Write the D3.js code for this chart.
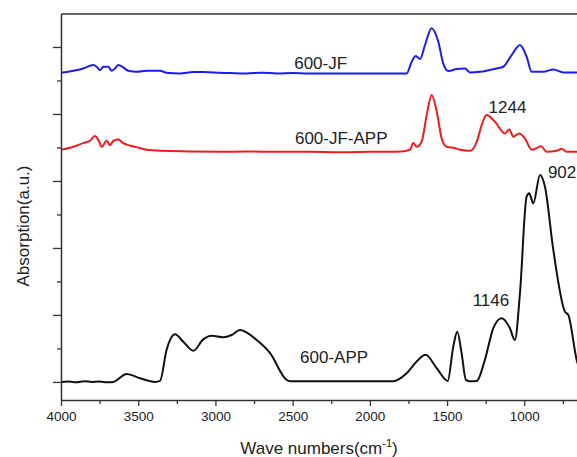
<!DOCTYPE html>
<html>
<head>
<meta charset="utf-8">
<script src="https://cdn.jsdelivr.net/npm/d3@7"></script>
<style>
  body { margin: 0; background: #fff; }
  svg { display: block; font-family: "Liberation Sans", Arial, sans-serif; }
</style>
</head>
<body>
<svg id="chart"></svg>
<script>
// Spectra as [wave number, absorption (a.u., offset)]
const app = [
  [4000, 0], [3950, 0.01], [3900, -0.01], [3850, 0.02], [3800, 0], [3750, 0.01], [3700, -0.01],
  [3663, 0], [3575, 0.24], [3488, 0.11], [3391, 0], [3359, 0.03], [3316, 0.96], [3262, 1.42],
  [3208, 1.2], [3143, 0.93], [3079, 1.27], [3024, 1.38], [2949, 1.33], [2895, 1.4], [2841, 1.55],
  [2733, 1.25], [2646, 0.86], [2539, 0.06], [2517, 0.02], [2200, 0.02], [1850, 0.02],
  [1762, 0.26], [1697, 0.61], [1639, 0.81], [1567, 0.41], [1496, 0.03], [1460, 1.05], [1434, 1.5],
  [1406, 0.86], [1378, 0.06], [1352, 0.02], [1308, 0.03], [1255, 0.66], [1201, 1.6], [1147, 1.9],
  [1093, 1.6], [1061, 1.25], [1028, 2.65], [985, 5.53], [968, 5.63], [942, 5.33], [898, 6.18],
  [866, 5.83], [812, 3.94], [737, 2.1], [715, 2.0], [661, 0.66], [607, 0]
];
const jfApp = [
  [4000, 6.93], [3920, 7.02], [3856, 7.13], [3812, 7.2], [3780, 7.34], [3758, 7.22], [3736, 7.02],
  [3704, 7.2], [3683, 7.07], [3661, 7.2], [3629, 7.24], [3597, 7.13], [3564, 7.07], [3510, 7.01],
  [3445, 6.93], [3359, 6.9], [2970, 6.87], [2800, 6.88], [2600, 6.87], [2400, 6.87], [2200, 6.86],
  [2000, 6.87], [1800, 6.88], [1740, 6.93], [1719, 7.13], [1697, 7.02], [1665, 7.17], [1632, 7.97],
  [1600, 8.57], [1567, 8.07], [1535, 7.27], [1503, 7.02], [1449, 6.98], [1417, 6.93], [1352, 6.9],
  [1308, 7.17], [1276, 7.67], [1244, 7.97], [1190, 7.77], [1125, 7.42], [1097, 7.54], [1071, 7.32],
  [1032, 7.42], [996, 7.27], [952, 6.93], [920, 6.98], [892, 7.04], [855, 6.87], [790, 6.9],
  [758, 6.96], [726, 6.87], [661, 6.87], [600, 6.87]
];
const jf = [
  [4000, 9.23], [3920, 9.29], [3856, 9.36], [3791, 9.46], [3769, 9.41], [3747, 9.31], [3726, 9.41],
  [3694, 9.41], [3672, 9.29], [3650, 9.36], [3629, 9.46], [3597, 9.39], [3564, 9.29], [3510, 9.26],
  [3445, 9.29], [3359, 9.29], [3316, 9.23], [3229, 9.21], [3143, 9.25], [3079, 9.25], [2970, 9.23],
  [2900, 9.22], [2800, 9.21], [2700, 9.23], [2600, 9.21], [2500, 9.22], [2400, 9.21], [2200, 9.21],
  [2000, 9.21], [1800, 9.21], [1762, 9.21], [1729, 9.56], [1703, 9.73], [1675, 9.64], [1643, 10.06],
  [1600, 10.56], [1557, 10.16], [1525, 9.51], [1492, 9.28], [1438, 9.34], [1384, 9.36], [1352, 9.24],
  [1287, 9.26], [1179, 9.36], [1136, 9.41], [1082, 9.76], [1028, 10.06], [985, 9.71], [952, 9.26],
  [877, 9.26], [812, 9.33], [748, 9.24], [661, 9.24], [600, 9.24]
];
const seriesNames = ["600-APP", "600-JF-APP", "600-JF"];
const seriesColors = ["#111111", "#ee1c1c", "#1c1cf0"];
// annotation labels: [text, wave number, value]
const sampleLabels = [["600-JF", 2490, 9.34], ["600-JF-APP", 2485, 7.1], ["600-APP", 2452, 0.57]];
const peakLabels = [["1244", 1109, 8.03], ["1146", 1216, 2.27], ["902", 847, 6.09]];
const majorX = [4000, 3500, 3000, 2500, 2000, 1500, 1000];
const minorX = [3750, 3250, 2750, 2250, 1750, 1250, 750];
const majorY = [0, 2, 4, 6, 8, 10];
const minorY = [1, 3, 5, 7, 9];

const W = 577, H = 457;
const svg = d3.select("#chart").attr("width", W).attr("height", H);

const x = d3.scaleLinear().domain([4000, 400]).range([61, 61 + 3600 * 0.15443]);
const y = d3.scaleLinear().domain([-0.54, 11]).range([400, 13.5]);

svg.append("defs").append("clipPath").attr("id", "clip")
  .append("rect").attr("x", 61).attr("y", 13.5).attr("width", W).attr("height", 386.5);

const line = d3.line()
  .x(d => x(d[0]))
  .y(d => y(d[1]))
  .curve(d3.curveMonotoneX);

[app, jfApp, jf].forEach((s, i) => {
  svg.append("path")
    .datum(s)
    .attr("clip-path", "url(#clip)")
    .attr("fill", "none")
    .attr("stroke", seriesColors[i])
    .attr("stroke-width", 2)
    .attr("stroke-linejoin", "round")
    .attr("d", line);
});

// axes
const axisColor = "#333";
const gx = svg.append("g").attr("transform", "translate(0," + y.range()[0] + ")");
gx.call(d3.axisBottom(x).tickValues(majorX).tickSize(6).tickSizeOuter(0).tickPadding(5).tickFormat(d3.format("d")));
gx.call(g => g.selectAll(".tick text").attr("font-size", 13.5).attr("fill", "#222").style("font-family", "inherit"));
svg.append("g").attr("transform", "translate(0," + y.range()[0] + ")")
  .call(d3.axisBottom(x).tickValues(minorX).tickSize(4).tickFormat(""))
  .call(g => g.select(".domain").remove());

const gy = svg.append("g").attr("transform", "translate(" + x.range()[0] + ",0)");
gy.call(d3.axisLeft(y).tickValues(majorY).tickSize(8).tickSizeOuter(0).tickFormat(""));
svg.append("g").attr("transform", "translate(" + x.range()[0] + ",0)")
  .call(d3.axisLeft(y).tickValues(minorY).tickSize(4).tickFormat(""))
  .call(g => g.select(".domain").remove());

svg.append("g").attr("transform", "translate(0," + y.range()[1] + ")")
  .call(d3.axisTop(x).tickValues([]).tickSizeOuter(0));

svg.selectAll(".domain").attr("stroke", axisColor).attr("stroke-width", 1.5);
svg.selectAll(".tick line").attr("stroke", axisColor).attr("stroke-width", 1.3);

// axis titles
const title = svg.append("text")
  .attr("x", 319).attr("y", 454)
  .attr("text-anchor", "middle")
  .attr("font-size", 17).attr("fill", "#222")
  .text("Wave numbers(cm");
title.append("tspan").attr("font-size", 11).attr("dy", -7).text("-1");
title.append("tspan").attr("dy", 7).text(")");

svg.append("text")
  .attr("transform", "translate(29,226) rotate(-90)")
  .attr("text-anchor", "middle")
  .attr("font-size", 17).attr("fill", "#222")
  .text("Absorption(a.u.)");

// labels
svg.selectAll(".sample").data(sampleLabels).enter().append("text")
  .attr("class", "sample")
  .attr("x", d => x(d[1])).attr("y", d => y(d[2]))
  .attr("font-size", 17).attr("fill", "#222")
  .text(d => d[0]);

svg.selectAll(".peak").data(peakLabels).enter().append("text")
  .attr("class", "peak")
  .attr("x", d => x(d[1])).attr("y", d => y(d[2]))
  .attr("text-anchor", (d, i) => i === 2 ? "start" : "middle")
  .attr("font-size", 17).attr("fill", "#222")
  .text(d => d[0]);
</script>
</body>
</html>
